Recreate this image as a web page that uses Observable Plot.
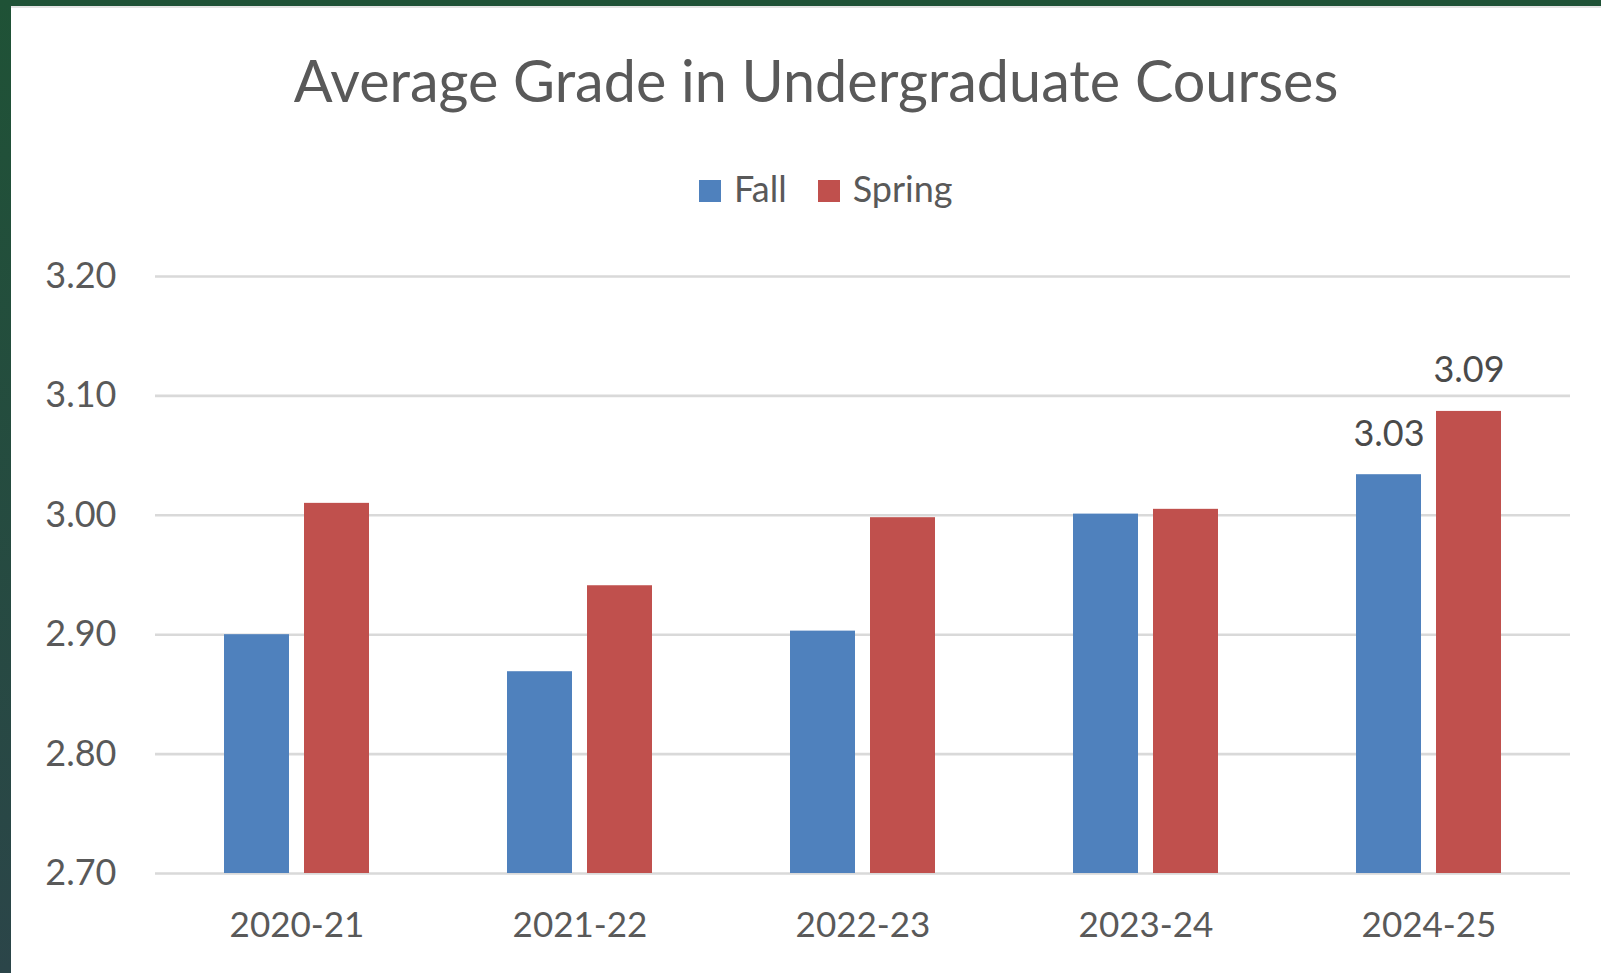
<!DOCTYPE html>
<html>
<head>
<meta charset="utf-8">
<script src="https://cdn.jsdelivr.net/npm/d3@7"></script>
<script src="https://cdn.jsdelivr.net/npm/@observablehq/plot@0.6"></script>
<style>
  html, body { margin: 0; padding: 0; }
  body {
    width: 1601px; height: 973px; overflow: hidden; position: relative;
    background: linear-gradient(#1f5236, #2b4549);
    font-family: Lato, "Open Sans", sans-serif;
  }
  #panel {
    position: absolute; left: 11px; top: 6px; right: 0; bottom: 0;
    background: #ffffff;
    border-top: 2px solid #e4e4e4;
  }
  #title {
    position: absolute; left: 0; width: 1632px; top: 51px;
    text-align: center; font-size: 57.5px; line-height: 1; color: #595959;
    white-space: nowrap;
  }
  #legend {
    position: absolute; left: 699px; top: 170px; height: 36px;
    display: flex; align-items: flex-end; font-size: 36px; line-height: 1; color: #595959;
  }
  #legend .item { display: flex; align-items: baseline; margin-right: 31px; }
  #legend .sw { display: inline-block; width: 22px; height: 22px; margin-right: 13px; }
  #chart { position: absolute; left: 0; top: 230px; }
  #chart svg { background: transparent !important; }
</style>
</head>
<body>
<div id="panel"></div>
<div id="title">Average Grade in Undergraduate Courses</div>
<div id="legend"></div>
<div id="chart"></div>
<script>
const years = ["2020-21", "2021-22", "2022-23", "2023-24", "2024-25"];
const series = ["Fall", "Spring"];
const fallValues = [2.900, 2.869, 2.903, 3.001, 3.034];
const springValues = [3.010, 2.941, 2.998, 3.005, 3.087];
const seriesColors = ["#4f81bd", "#c0504d"];
const yTicks = [2.70, 2.80, 2.90, 3.00, 3.10, 3.20];
const labelledYears = ["2024-25"];
const yBase = 2.70;

const rows = [];
years.forEach((y, i) => {
  rows.push({year: y, series: "Fall", value: fallValues[i]});
  rows.push({year: y, series: "Spring", value: springValues[i]});
});

// legend
const legend = document.getElementById("legend");
series.forEach((s, i) => {
  const item = document.createElement("div");
  item.className = "item";
  const sw = document.createElement("span");
  sw.className = "sw";
  sw.style.background = seriesColors[i];
  const t = document.createElement("span");
  t.textContent = s;
  item.appendChild(sw); item.appendChild(t);
  legend.appendChild(item);
});

const chart = Plot.plot({
  width: 1601,
  height: 743,
  marginTop: 46,
  marginBottom: 100,
  marginLeft: 153,
  marginRight: 29,
  style: {fontFamily: "Lato, 'Open Sans', sans-serif", color: "#595959", background: "transparent"},
  fx: {domain: years, padding: 0, label: null},
  x: {domain: series, paddingInner: 0.19, paddingOuter: 0.85, axis: null},
  y: {domain: [2.70, 3.20], label: null},
  color: {domain: series, range: seriesColors},
  marks: [
    Plot.ruleY(yTicks, {stroke: "#d9d9d9", strokeWidth: 2.6}),
    Plot.barY(rows, {fx: "year", x: "series", y1: yBase, y2: "value", fill: "series"}),
    Plot.text(rows.filter(d => labelledYears.includes(d.year)), {
      fx: "year", x: "series", y: "value",
      text: d => d.value.toFixed(2),
      lineAnchor: "bottom", dy: -29, fontSize: 36, fill: "#4a4a4a"
    }),
    Plot.axisY({ticks: yTicks, tickFormat: d => d.toFixed(2), tickSize: 0, tickPadding: 39, fontSize: 36, label: null, fill: "#595959"}),
    Plot.axisFx({anchor: "bottom", tickSize: 0, tickPadding: 39, fontSize: 35, label: null, fill: "#595959"})
  ]
});
document.getElementById("chart").appendChild(chart);
</script>
</body>
</html>
